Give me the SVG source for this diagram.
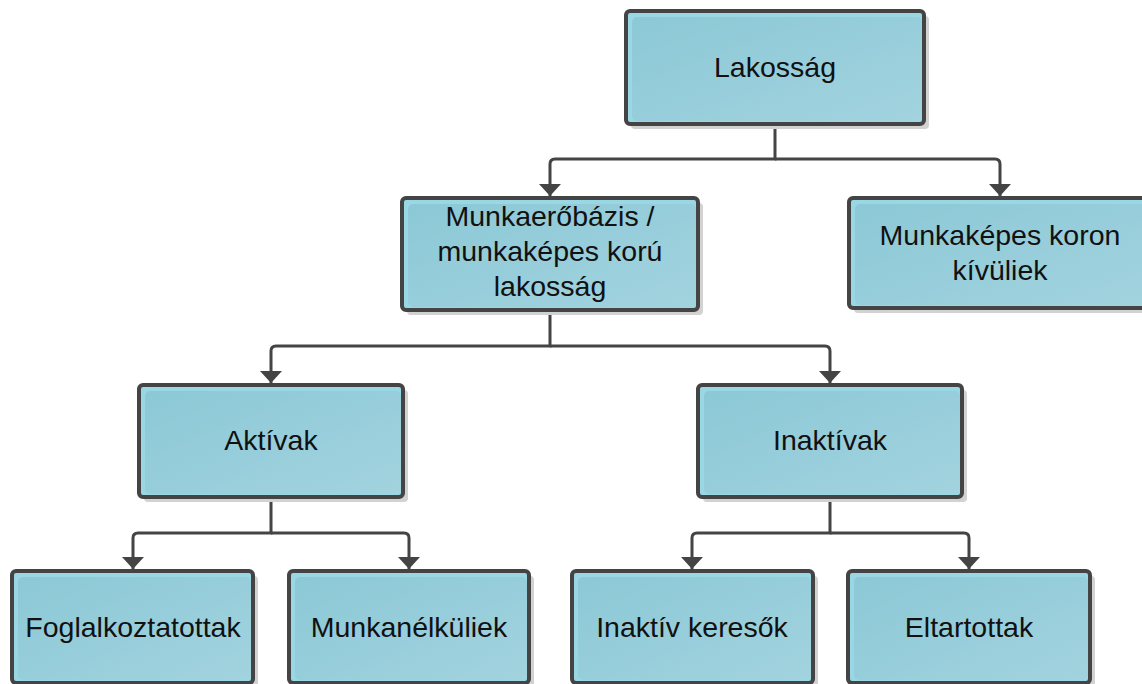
<svg xmlns="http://www.w3.org/2000/svg" width="1142" height="684" viewBox="0 0 1142 684">
  <defs>
    <linearGradient id="inner" x1="0" y1="0" x2="1" y2="1">
      <stop offset="0" stop-color="#8cc8d6"/>
      <stop offset="1" stop-color="#a2d3df"/>
    </linearGradient>
    <marker id="arr" viewBox="0 0 12 22" refX="12" refY="11" markerWidth="12" markerHeight="22" markerUnits="userSpaceOnUse" orient="auto">
      <path d="M0,0 L12,11 L0,22 z" fill="#444"/>
    </marker>
    <style>
      .shadow { fill: #d2d2d2; }
      .base { fill: #9ad7e5; stroke: none; }
      .inner { fill: url(#inner); }
      .border { fill: none; stroke: #444; stroke-width: 4; }
      .lbl { font-family: "Liberation Sans", Arial, sans-serif; font-size: 28.5px; fill: #111; text-anchor: middle; }
      .conn { fill: none; stroke: #444; stroke-width: 3; }
    </style>
  </defs>

  <g id="connectors">
    <path class="conn" d="M775,125 V159 H555 Q550,159 550,164 V196" marker-end="url(#arr)"/>
    <path class="conn" d="M775,159 H995 Q1000,159 1000,164 V196" marker-end="url(#arr)"/>
    <path class="conn" d="M550,312 V346 H276 Q271,346 271,351 V383" marker-end="url(#arr)"/>
    <path class="conn" d="M550,346 H825 Q830,346 830,351 V383" marker-end="url(#arr)"/>
    <path class="conn" d="M271,499 V533 H138 Q133,533 133,538 V569" marker-end="url(#arr)"/>
    <path class="conn" d="M271,533 H404 Q409,533 409,538 V569" marker-end="url(#arr)"/>
    <path class="conn" d="M830,499 V533 H697 Q692,533 692,538 V569" marker-end="url(#arr)"/>
    <path class="conn" d="M830,533 H964 Q969,533 969,538 V569" marker-end="url(#arr)"/>
  </g>

  <g id="lakossag">
    <rect class="shadow" x="631" y="16" width="298" height="113" rx="4"/>
    <rect class="base" x="626" y="11" width="298" height="113" rx="4"/>
    <rect class="inner" x="632" y="17" width="290" height="104" rx="5"/>
    <rect class="border" x="626" y="11" width="298" height="113" rx="4"/>
    <text class="lbl" x="775" y="77">Lakosság</text>
  </g>

  <g id="munkaerobazis">
    <rect class="shadow" x="407" y="203" width="296" height="112" rx="4"/>
    <rect class="base" x="402" y="198" width="296" height="112" rx="4"/>
    <rect class="inner" x="408" y="204" width="288" height="103" rx="5"/>
    <rect class="border" x="402" y="198" width="296" height="112" rx="4"/>
    <text class="lbl" x="550" y="226">Munkaerőbázis /</text>
    <text class="lbl" x="550" y="261">munkaképes korú</text>
    <text class="lbl" x="550" y="296">lakosság</text>
  </g>

  <g id="koron-kivuliek">
    <rect class="shadow" x="854" y="203" width="302" height="110" rx="4"/>
    <rect class="base" x="849" y="198" width="302" height="110" rx="4"/>
    <rect class="inner" x="855" y="204" width="294" height="101" rx="5"/>
    <rect class="border" x="849" y="198" width="302" height="110" rx="4"/>
    <text class="lbl" x="1000" y="245">Munkaképes koron</text>
    <text class="lbl" x="1000" y="280">kívüliek</text>
  </g>

  <g id="aktivak">
    <rect class="shadow" x="144" y="390" width="264" height="112" rx="4"/>
    <rect class="base" x="139" y="385" width="264" height="112" rx="4"/>
    <rect class="inner" x="145" y="391" width="256" height="103" rx="5"/>
    <rect class="border" x="139" y="385" width="264" height="112" rx="4"/>
    <text class="lbl" x="271" y="450">Aktívak</text>
  </g>

  <g id="inaktivak">
    <rect class="shadow" x="703" y="390" width="264" height="112" rx="4"/>
    <rect class="base" x="698" y="385" width="264" height="112" rx="4"/>
    <rect class="inner" x="704" y="391" width="256" height="103" rx="5"/>
    <rect class="border" x="698" y="385" width="264" height="112" rx="4"/>
    <text class="lbl" x="830" y="450">Inaktívak</text>
  </g>

  <g id="foglalkoztatottak">
    <rect class="shadow" x="17" y="576" width="241" height="112" rx="4"/>
    <rect class="base" x="12" y="571" width="241" height="112" rx="4"/>
    <rect class="inner" x="18" y="577" width="233" height="103" rx="5"/>
    <rect class="border" x="12" y="571" width="241" height="112" rx="4"/>
    <text class="lbl" x="133" y="637">Foglalkoztatottak</text>
  </g>

  <g id="munkanelkuliek">
    <rect class="shadow" x="294" y="576" width="240" height="112" rx="4"/>
    <rect class="base" x="289" y="571" width="240" height="112" rx="4"/>
    <rect class="inner" x="295" y="577" width="232" height="103" rx="5"/>
    <rect class="border" x="289" y="571" width="240" height="112" rx="4"/>
    <text class="lbl" x="409" y="637">Munkanélküliek</text>
  </g>

  <g id="inaktiv-keresok">
    <rect class="shadow" x="577" y="576" width="241" height="112" rx="4"/>
    <rect class="base" x="572" y="571" width="241" height="112" rx="4"/>
    <rect class="inner" x="578" y="577" width="233" height="103" rx="5"/>
    <rect class="border" x="572" y="571" width="241" height="112" rx="4"/>
    <text class="lbl" x="692" y="637">Inaktív keresők</text>
  </g>

  <g id="eltartottak">
    <rect class="shadow" x="853" y="576" width="242" height="112" rx="4"/>
    <rect class="base" x="848" y="571" width="242" height="112" rx="4"/>
    <rect class="inner" x="854" y="577" width="234" height="103" rx="5"/>
    <rect class="border" x="848" y="571" width="242" height="112" rx="4"/>
    <text class="lbl" x="969" y="637">Eltartottak</text>
  </g>
</svg>
